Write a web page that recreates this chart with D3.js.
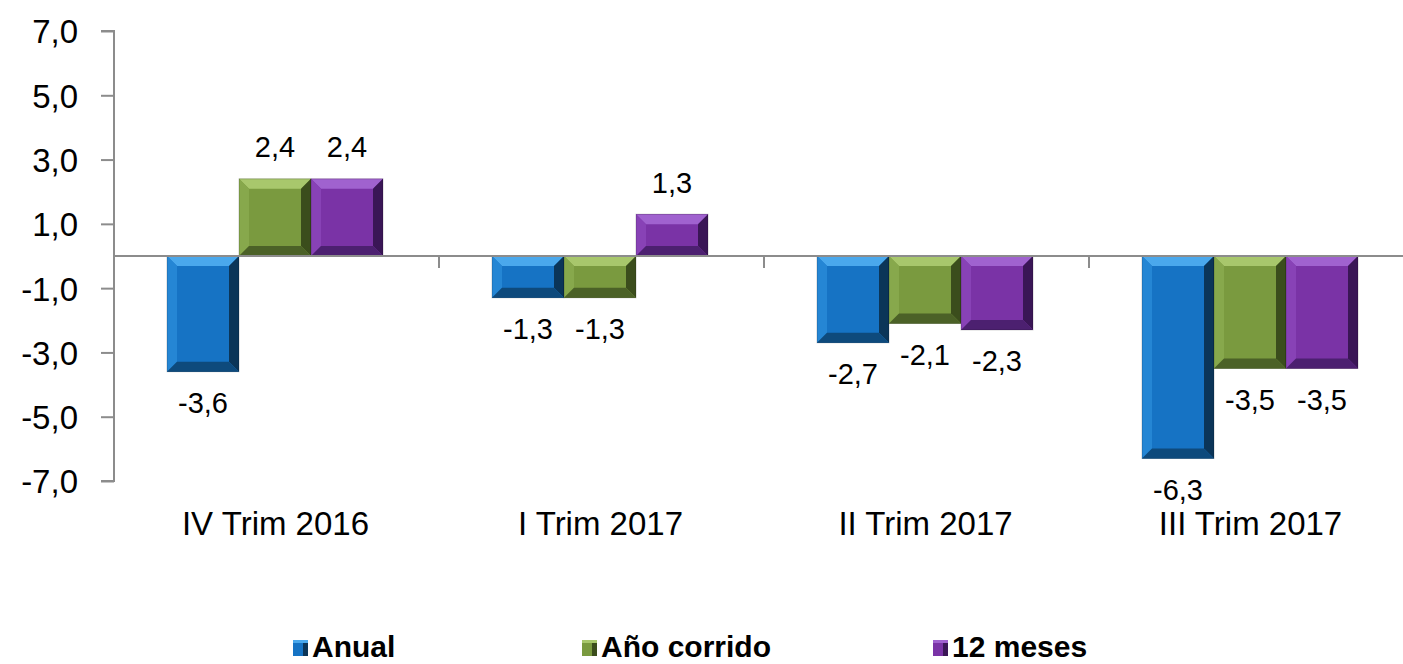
<!DOCTYPE html>
<html><head><meta charset="utf-8">
<script src="https://cdn.jsdelivr.net/npm/d3@7"></script>
<style>html,body{margin:0;padding:0;background:#fff;}svg{display:block;}</style>
</head><body>
<script>
const categories = ["IV Trim 2016", "I Trim 2017", "II Trim 2017", "III Trim 2017"];
const seriesNames = ["Anual", "Año corrido", "12 meses"];
const anual = [-3.6, -1.3, -2.7, -6.3];
const anoCorrido = [2.4, -1.3, -2.1, -3.5];
const doceMeses = [2.4, 1.3, -2.3, -3.5];
const yTicks = [-7, -5, -3, -1, 1, 3, 5, 7];

const W = 1403, H = 664;
const FONT = "Liberation Sans, Arial, Helvetica, sans-serif";
const svg = d3.select("body").append("svg").attr("width", W).attr("height", H);
const fmt = v => d3.format(".1f")(v).replace(".", ",").replace("−", "-");

const colors = [
  {base:"#1673c4", top:"#4aa8ec", left:"#2586d4", right:"#0b3558", bottom:"#0e4a7c"},
  {base:"#7a9a3f", top:"#a8c76c", left:"#87a84c", right:"#3b4d1c", bottom:"#4b6127"},
  {base:"#7a33a6", top:"#a062cf", left:"#8842b6", right:"#3a1656", bottom:"#4c2070"}
];
const series = [anual, anoCorrido, doceMeses];

const y = d3.scaleLinear().domain([-7, 7]).range([481, 31]);
const x0 = d3.scaleBand().domain(categories).range([114, 1414]);
const x1 = d3.scaleBand().domain(seriesNames).range([53, 53 + 216]).padding(0);

// y axis
const yAxis = d3.axisLeft(y).tickValues(yTicks).tickSize(13).tickFormat(fmt);
const gy = svg.append("g").attr("transform", "translate(114,0)").call(yAxis);
gy.select(".domain").attr("stroke", "#8c8c8c").attr("stroke-width", 2).attr("d", `M-13,${y(7)}H0V${y(-7)}H-13`);
gy.selectAll(".tick line").attr("stroke", "#8c8c8c").attr("stroke-width", 2);
gy.selectAll(".tick text").attr("x", -36).attr("dy", "0.36em").attr("font-family", FONT).attr("font-size", 33).attr("fill", "#000");

// bars
const bev = 10;
categories.forEach((c, ci) => {
  seriesNames.forEach((s, si) => {
    const v = series[si][ci];
    const bx = x0(c) + x1(s), bw = x1.bandwidth();
    const y0 = y(0), yv = y(v);
    const top = Math.min(y0, yv), bh = Math.abs(yv - y0);
    const col = colors[si];
    const g = svg.append("g");
    const b = Math.min(bev, bh / 2.2, bw / 2.2);
    const L = bx, R = bx + bw, T = top, B = top + bh;
    g.append("rect").attr("x", L).attr("y", T).attr("width", bw).attr("height", bh).attr("fill", col.base);
    g.append("path").attr("d", `M${L},${T}L${R},${T}L${R-b},${T+b}L${L+b},${T+b}Z`).attr("fill", col.top);
    g.append("path").attr("d", `M${L},${T}L${L+b},${T+b}L${L+b},${B-b}L${L},${B}Z`).attr("fill", col.left);
    g.append("path").attr("d", `M${R},${T}L${R},${B}L${R-b},${B-b}L${R-b},${T+b}Z`).attr("fill", col.right);
    g.append("path").attr("d", `M${L},${B}L${R},${B}L${R-b},${B-b}L${L+b},${B-b}Z`).attr("fill", col.bottom);
    g.append("rect").attr("x", L).attr("y", T).attr("width", bw).attr("height", bh).attr("fill", "none").attr("stroke", "rgba(0,0,0,0.2)").attr("stroke-width", 1);
    svg.append("text")
      .attr("x", bx + bw / 2)
      .attr("y", v >= 0 ? yv - 32 : yv + 31)
      .attr("dy", "0.36em")
      .attr("text-anchor", "middle")
      .attr("font-family", FONT)
      .attr("font-size", 29).attr("fill", "#000")
      .text(fmt(v));
  });
});

// x axis at zero
const gx = svg.append("g").attr("transform", `translate(0,${y(0)})`);
gx.append("line").attr("x1", 114).attr("x2", W).attr("y1", 0).attr("y2", 0).attr("stroke", "#8c8c8c").attr("stroke-width", 2);
gx.selectAll("line.tk").data(categories.slice(1)).join("line").attr("class", "tk")
  .attr("x1", d => x0(d)).attr("x2", d => x0(d)).attr("y1", 0).attr("y2", 12)
  .attr("stroke", "#8c8c8c").attr("stroke-width", 2);

// category labels
svg.append("g").selectAll("text").data(categories).join("text")
  .attr("x", d => x0(d) + x0.bandwidth() / 2 - 1)
  .attr("y", 535)
  .attr("text-anchor", "middle")
  .attr("font-family", FONT)
  .attr("font-size", 33).attr("fill", "#000")
  .text(d => d);

// legend
const legX = [293, 582, 933];
const lg = svg.append("g");
seriesNames.forEach((s, i) => {
  const col = colors[i];
  const lx = legX[i];
  lg.append("rect").attr("x", lx).attr("y", 640).attr("width", 15).attr("height", 16).attr("fill", col.base);
  lg.append("rect").attr("x", lx + 10).attr("y", 640).attr("width", 5).attr("height", 16).attr("fill", col.right);
  lg.append("rect").attr("x", lx).attr("y", 640).attr("width", 15).attr("height", 3).attr("fill", col.top);
  lg.append("text").attr("x", lx + 19).attr("y", 657)
    .attr("font-family", FONT)
    .attr("font-weight", "bold").attr("font-size", 30).attr("fill", "#000").text(s);
});
</script>
</body></html>
